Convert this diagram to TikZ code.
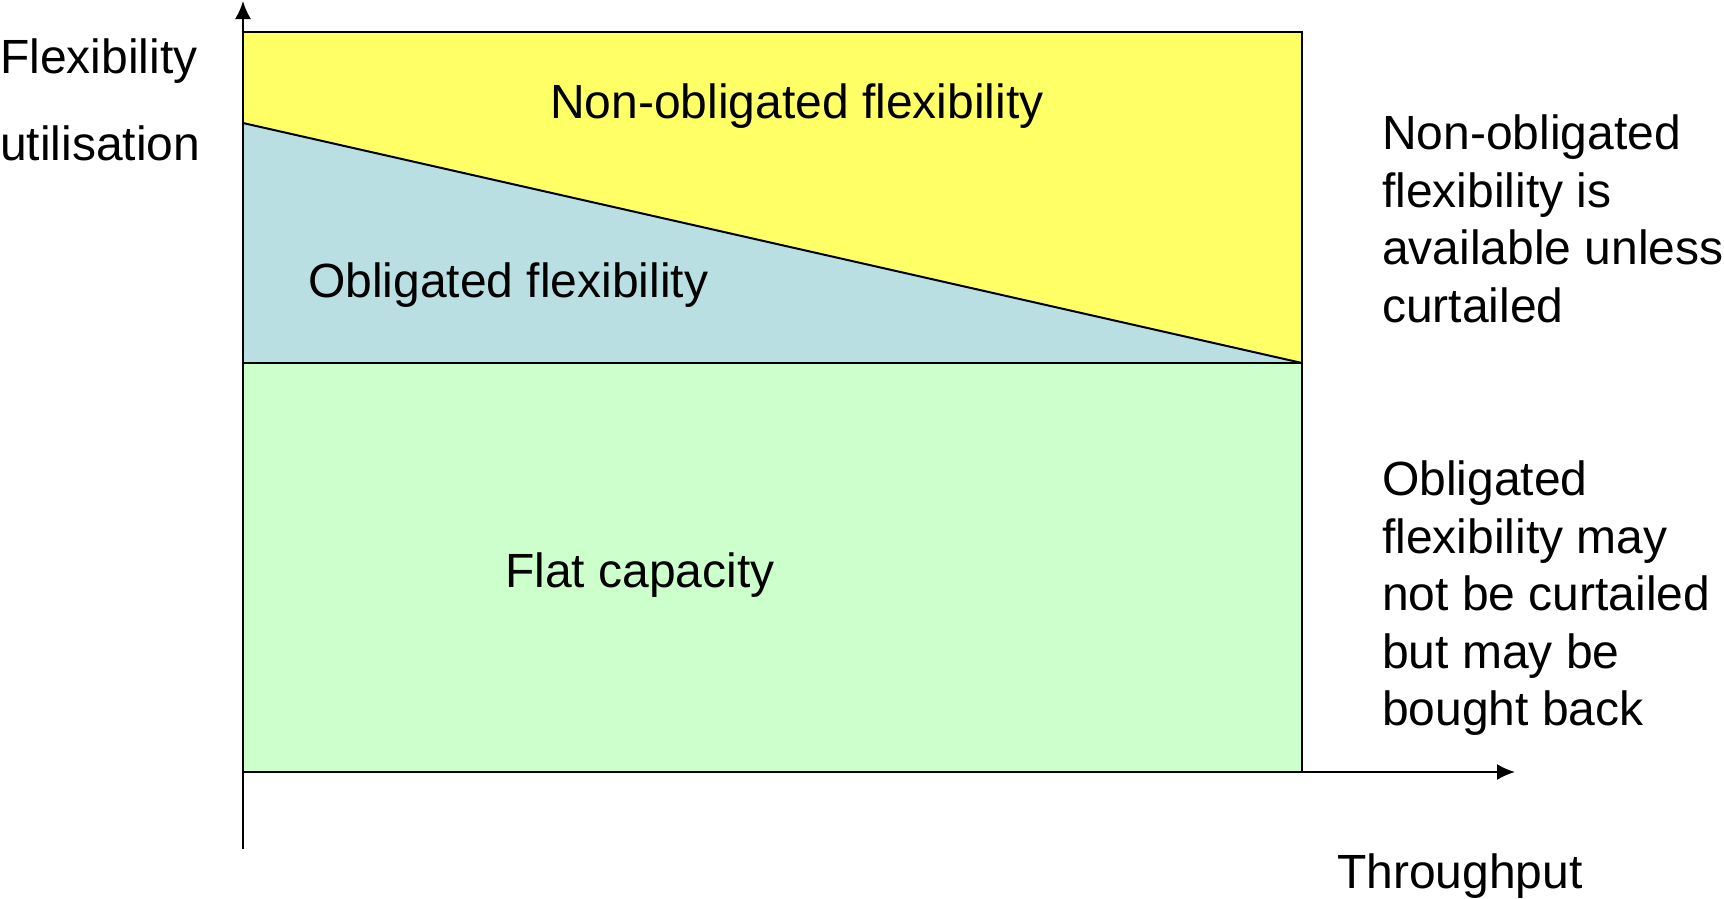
\documentclass[tikz,border=0pt]{standalone}
\usepackage{fontspec}
\setmainfont{Liberation Sans}
\usetikzlibrary{arrows.meta}
\definecolor{nonob}{HTML}{FFFF66}
\definecolor{obl}{HTML}{B9DFE3}
\definecolor{flat}{HTML}{CCFFCC}
\tikzset{
  lbl/.style={anchor=base west, inner sep=0pt, font=\fontsize{48}{57.5}\selectfont},
  region/.style={draw=black, line width=2pt, line join=miter},
  axis/.style={draw=black, line width=2pt, -{Latex[length=18pt,width=16pt]}}
}
\begin{document}
\begin{tikzpicture}[x=1pt,y=-1pt]
\useasboundingbox (0,0) rectangle (1724,898);
\coordinate (TL) at (243,32);
\coordinate (TR) at (1302,32);
\coordinate (DL) at (243,123);
\coordinate (ML) at (243,363);
\coordinate (MR) at (1302,363);
\coordinate (BL) at (243,772);
\coordinate (BR) at (1302,772);
\coordinate (ytop) at (243,1);
\coordinate (ybot) at (243,849);
\coordinate (xend) at (1515,772);
% regions
\fill[flat] (ML) rectangle (BR);
\fill[obl] (DL) -- (MR) -- (ML) -- cycle;
\fill[nonob] (TL) -- (TR) -- (MR) -- (DL) -- cycle;
\draw[region] (TL) -- (TR) -- (BR) -- (BL);
\draw[region] (DL) -- (MR);
\draw[region] (ML) -- (MR);
% axes
\draw[axis] (ybot) -- (ytop);
\draw[axis] (BL) -- (xend);
% labels
\node[lbl] (flex) at (0,73) {Flexibility};
\node[lbl] (util) at (0,160) {utilisation};
\node[lbl] (thr) at (1337,888) {Throughput};
\node[lbl] (nonobl) at (550,118) {Non-obligated flexibility};
\node[lbl] (obll) at (308,297) {Obligated flexibility};
\node[lbl] (flatl) at (505,587) {Flat capacity};
\node[lbl, align=left, anchor=north west] (note1) at (1382,115)
  {Non-obligated\\flexibility is\\available unless\\curtailed};
\node[lbl, align=left, anchor=north west] (note2) at (1382,461)
  {Obligated\\flexibility may\\not be curtailed\\but may be\\bought back};
\end{tikzpicture}
\end{document}
